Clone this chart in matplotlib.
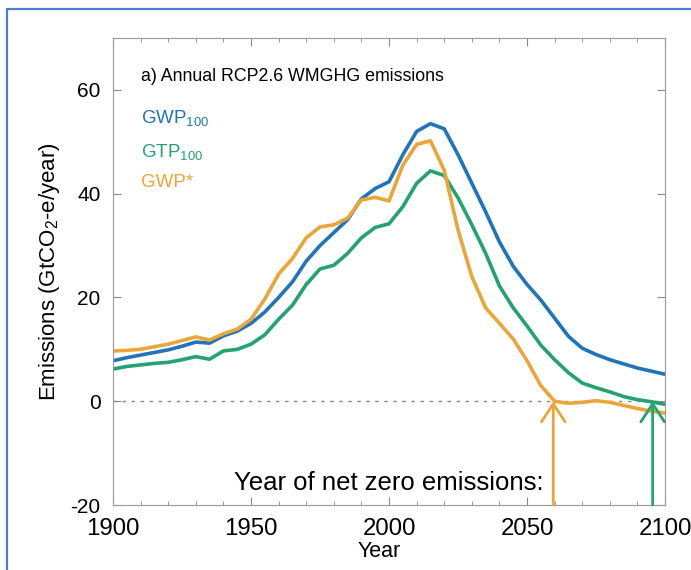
import matplotlib
matplotlib.use('Agg')
import matplotlib.pyplot as plt
from matplotlib.patches import Rectangle
from matplotlib.ticker import MultipleLocator

plt.rcParams['font.family'] = ['Liberation Sans', 'DejaVu Sans']
plt.rcParams['mathtext.fontset'] = 'custom'
plt.rcParams['mathtext.rm'] = 'Liberation Sans'
plt.rcParams['axes.unicode_minus'] = False

# data
years = list(range(1900, 2101, 5))
gwp100 = [7.8, 8.4, 8.9, 9.4, 9.9, 10.6, 11.4, 11.2, 12.6, 13.5,
          15.0, 17.2, 20.0, 23.0, 27.0, 30.0, 32.5, 35.0, 39.0, 41.0,
          42.3, 47.5, 52.0, 53.5, 52.5, 47.5, 42.0, 36.5, 30.7, 26.0,
          22.5, 19.5, 16.0, 12.5, 10.2, 9.0, 8.0, 7.2, 6.4, 5.8, 5.2]
gtp100 = [6.2, 6.7, 7.0, 7.3, 7.5, 8.0, 8.6, 8.1, 9.7, 10.0,
          11.0, 12.8, 15.8, 18.5, 22.5, 25.5, 26.2, 28.5, 31.5, 33.5,
          34.2, 37.5, 42.0, 44.4, 43.5, 39.2, 34.0, 28.5, 22.2, 18.0,
          14.5, 10.8, 8.0, 5.5, 3.5, 2.6, 1.8, 0.9, 0.3, -0.1, -0.6]
gwpstar = [9.7, 9.8, 10.0, 10.5, 11.0, 11.7, 12.4, 11.8, 13.0, 13.9,
           15.8, 19.7, 24.5, 27.5, 31.5, 33.6, 34.0, 35.3, 38.8, 39.3,
           38.6, 45.5, 49.5, 50.2, 44.5, 33.0, 24.0, 18.0, 15.0, 12.0,
           7.8, 3.0, 0.0, -0.4, -0.2, 0.1, -0.2, -0.8, -1.4, -1.9, -2.3]

# year of net zero emissions
netzero_gwpstar = 2059.5
netzero_gtp100 = 2095.5

c_blue = '#1f74bb'
c_green = '#23a371'
c_orange = '#eba63a'

fig = plt.figure(figsize=(6.91, 5.70), dpi=100)
ax = fig.add_axes([0.1635, 0.114, 0.799, 0.8193])

# dotted zero line
ax.plot([1900, 2100], [0, 0], color='#888888', lw=1, linestyle=(0, (2.5, 4)))

ax.plot(years, gwp100, color=c_blue, lw=2.6, solid_joinstyle='round')
ax.plot(years, gtp100, color=c_green, lw=2.6, solid_joinstyle='round')
ax.plot(years, gwpstar, color=c_orange, lw=2.6, solid_joinstyle='round')

# net zero arrows
for yr, col in [(netzero_gwpstar, c_orange), (netzero_gtp100, c_green)]:
    ax.annotate('', xy=(yr, 0), xytext=(yr, -20),
                arrowprops=dict(arrowstyle='->,head_length=1.3,head_width=0.85',
                                color=col, lw=2, shrinkA=0, shrinkB=0))

ax.set_xlim(1900, 2100)
ax.set_ylim(-20, 70)
ax.xaxis.set_major_locator(MultipleLocator(50))
ax.xaxis.set_minor_locator(MultipleLocator(10))
ax.set_yticks([-20, 0, 20, 40, 60])
ax.tick_params(axis='both', which='both', direction='in', top=True, right=True,
               color='#888888')
ax.tick_params(axis='both', which='major', length=6)
ax.tick_params(axis='both', which='minor', length=3)
ax.tick_params(axis='x', labelsize=17.3, pad=9)
ax.tick_params(axis='y', labelsize=15, pad=9)
for s in ax.spines.values():
    s.set_color('#999999')

ax.set_xlabel('Year', fontsize=15.5)
ax.xaxis.set_label_coords(0.482, -0.078)
ax.set_ylabel(r'Emissions (GtCO$_2$-e/year)', fontsize=16, labelpad=6)

ax.text(0.05, 0.918, 'a) Annual RCP2.6 WMGHG emissions', transform=ax.transAxes,
        fontsize=12.8, va='center', ha='left')
ax.text(0.05, 0.826, r'GWP$_{\mathregular{100}}$', transform=ax.transAxes,
        fontsize=13.5, color=c_blue, va='center')
ax.text(0.05, 0.755, r'GTP$_{\mathregular{100}}$', transform=ax.transAxes,
        fontsize=13.5, color=c_green, va='center')
ax.text(0.05, 0.690, 'GWP*', transform=ax.transAxes,
        fontsize=13.5, color=c_orange, va='center')
ax.text(2056, -15.7, 'Year of net zero emissions:', fontsize=18.5, ha='right', va='center')

# blue frame around the figure
fig.patches.append(Rectangle((0.01, -0.05), 1.1, 1.034, transform=fig.transFigure,
                             fill=False, edgecolor='#4d7fcf', lw=1.6, figure=fig))

fig.savefig('out.png', dpi=100)
